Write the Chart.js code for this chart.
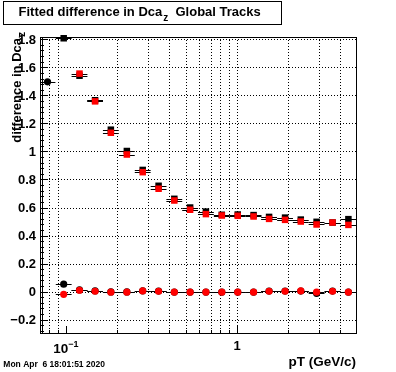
<!DOCTYPE html>
<html>
<head>
<meta charset="utf-8">
<script src="https://cdn.jsdelivr.net/npm/chart.js@4.4.0/dist/chart.umd.min.js"></script>
<style>
  body { margin: 0; background: #fff; }
  #wrap { position: relative; width: 396px; height: 372px; }
</style>
</head>
<body>
<div id="wrap"><canvas id="chart"></canvas></div>
<script>
// pT bin centres (GeV/c), log spaced bins
const ptBins = [0.078, 0.097, 0.12, 0.148, 0.183, 0.227, 0.281, 0.348, 0.43, 0.532,
                0.658, 0.815, 1.01, 1.25, 1.54, 1.91, 2.36, 2.92, 3.62, 4.48];

// upper branch (squares)
const blackSquares = [null, 1.807, 1.54, 1.365, 1.155, 1.003, 0.868, 0.755, 0.662, 0.600,
                      0.571, 0.548, 0.550, 0.546, 0.533, 0.528, 0.514, 0.498, 0.493, 0.517];
const redSquares   = [null, null, 1.555, 1.357, 1.133, 0.978, 0.852, 0.734, 0.650, 0.584,
                      0.553, 0.543, 0.541, 0.536, 0.519, 0.512, 0.500, 0.479, 0.493, 0.476];

// lower branch (circles)
const blackCircles = [1.496, 0.053, 0.012, 0.005, -0.002, -0.002, 0.006, 0.004, -0.003, -0.003,
                      -0.003, -0.003, -0.003, -0.003, 0.004, 0.004, 0.004, -0.012, 0.004, -0.003];
const redCircles   = [null, -0.019, 0.010, 0.003, -0.004, -0.004, 0.005, 0.003, -0.004, -0.004,
                      -0.004, -0.004, -0.004, -0.004, 0.003, 0.003, 0.005, -0.004, 0.003, -0.004];

// axis ticks
const yTickValues = [-0.2, 0, 0.2, 0.4, 0.6, 0.8, 1, 1.2, 1.4, 1.6, 1.8];
const yTickLabels = ['\u22120.2', '0', '0.2', '0.4', '0.6', '0.8', '1', '1.2', '1.4', '1.6', '1.8'];
const xGridValues = [0.08, 0.09, 0.2, 0.3, 0.4, 0.5, 0.6, 0.7, 0.8, 0.9, 1, 2, 3, 4];
const xMinorTicks = [0.08, 0.09, 0.2, 0.3, 0.4, 0.5, 0.6, 0.7, 0.8, 0.9, 2, 3, 4];
const xMajorTicks = [0.1, 1];

const FONT = '"Liberation Sans", Arial, Helvetica, sans-serif';
const binHalf = 1.1125;   // half bin width as a ratio (log bins)

function pairs(ys) {
    return ptBins.map((x, i) => ({ x: x, y: ys[i] })).filter(p => p.y !== null);
}

// ROOT-like frame, grid, ticks, labels
const rootStyle = {
    id: 'rootStyle',
    beforeDatasetsDraw(chart) {
        const ctx = chart.ctx;
        const xs = chart.scales.x, ys = chart.scales.y;
        const a = chart.chartArea;
        ctx.save();
        ctx.strokeStyle = '#000';
        ctx.lineWidth = 1;

        // dotted grid
        ctx.setLineDash([1, 2]);
        yTickValues.forEach(v => {
            const py = Math.round(ys.getPixelForValue(v)) + 0.5;
            ctx.beginPath(); ctx.moveTo(a.left, py); ctx.lineTo(a.right, py); ctx.stroke();
        });
        xGridValues.forEach(v => {
            const px = Math.round(xs.getPixelForValue(v)) + 0.5;
            ctx.beginPath(); ctx.moveTo(px, a.top); ctx.lineTo(px, a.bottom); ctx.stroke();
        });
        ctx.setLineDash([]);

        // frame
        ctx.strokeRect(a.left + 0.5, a.top + 0.5, a.right - a.left - 1, a.bottom - a.top - 1);
        ctx.beginPath(); ctx.moveTo(a.left + 2.5, a.top); ctx.lineTo(a.left + 2.5, a.bottom); ctx.stroke();

        // y ticks, major every 0.2 with 5 subdivisions
        for (let k = -15; k <= 95; k++) {
            const v = k * 0.02 * 2 / 2;
            const val = k * 0.04;
            if (val < ys.min || val > ys.max) continue;
            const py = Math.round(ys.getPixelForValue(val)) + 0.5;
            const len = (k % 5 === 0) ? 8 : 4;
            ctx.beginPath(); ctx.moveTo(a.left, py); ctx.lineTo(a.left + len, py); ctx.stroke();
        }
        // x ticks
        xMinorTicks.forEach(v => {
            const px = Math.round(xs.getPixelForValue(v)) + 0.5;
            ctx.beginPath(); ctx.moveTo(px, a.bottom); ctx.lineTo(px, a.bottom - 4); ctx.stroke();
        });
        xMajorTicks.forEach(v => {
            const px = Math.round(xs.getPixelForValue(v)) + 0.5;
            ctx.beginPath(); ctx.moveTo(px, a.bottom); ctx.lineTo(px, a.bottom - 8); ctx.stroke();
        });
        ctx.restore();
    },
    beforeDatasetDraw(chart, args) {
        // horizontal error bars (bin width), always black
        const ctx = chart.ctx;
        const xs = chart.scales.x, ys = chart.scales.y;
        const ds = chart.data.datasets[args.index];
        ctx.save();
        ctx.strokeStyle = '#000';
        ctx.lineWidth = 1;
        ds.data.forEach(p => {
            const py = Math.round(ys.getPixelForValue(p.y)) + 0.5;
            const x0 = Math.max(xs.getPixelForValue(p.x / binHalf), chart.chartArea.left);
            const x1 = xs.getPixelForValue(p.x * binHalf);
            ctx.beginPath(); ctx.moveTo(x0, py); ctx.lineTo(x1, py); ctx.stroke();
        });
        ctx.restore();
    },
    afterDraw(chart) {
        const ctx = chart.ctx;
        const xs = chart.scales.x, ys = chart.scales.y;
        const a = chart.chartArea;
        ctx.save();
        ctx.fillStyle = '#000';

        // y tick labels
        ctx.font = 'bold 13px ' + FONT;
        ctx.textAlign = 'right';
        ctx.textBaseline = 'alphabetic';
        yTickValues.forEach((v, i) => {
            const py = ys.getPixelForValue(v);
            ctx.fillText(yTickLabels[i], 36, py + 4.7);
        });

        // x tick labels: 10^-1 and 1
        const p01 = xs.getPixelForValue(0.1);
        ctx.font = 'bold 13.5px ' + FONT;
        ctx.textAlign = 'left';
        const w10 = ctx.measureText('10').width;
        ctx.font = 'bold 9px ' + FONT;
        const wExp = ctx.measureText('\u22121').width;
        const startX = p01 - (w10 + wExp) / 2;
        ctx.font = 'bold 13.5px ' + FONT;
        ctx.fillText('10', startX, 353);
        ctx.font = 'bold 9px ' + FONT;
        ctx.fillText('\u22121', startX + w10, 347);
        ctx.font = 'bold 13px ' + FONT;
        ctx.textAlign = 'center';
        ctx.fillText('1', xs.getPixelForValue(1), 350);

        // x axis title
        ctx.font = 'bold 13.5px ' + FONT;
        ctx.textAlign = 'right';
        ctx.fillText('pT (GeV/c)', a.right - 1, 366);

        // y axis title, rotated
        ctx.font = 'bold 13px ' + FONT;
        const yMain = 'difference in Dca';
        const wMain = ctx.measureText(yMain).width;
        ctx.save();
        ctx.translate(20.5, 38 + wMain);
        ctx.rotate(-Math.PI / 2);
        ctx.textAlign = 'left';
        ctx.fillText(yMain, 0, 0);
        ctx.font = 'bold 10px ' + FONT;
        ctx.fillText('z', wMain + 1, 4);
        ctx.restore();

        // title box
        ctx.fillStyle = '#fff';
        ctx.fillRect(3.5, 1.5, 278, 23);
        ctx.strokeStyle = '#000';
        ctx.lineWidth = 1;
        ctx.strokeRect(3.5, 1.5, 278, 23);
        ctx.fillStyle = '#000';
        ctx.textAlign = 'left';
        ctx.font = 'bold 13px ' + FONT;
        const t1 = 'Fitted difference in Dca';
        ctx.fillText(t1, 18.5, 16);
        let tx = 18.5 + ctx.measureText(t1).width;
        ctx.font = 'bold 10px ' + FONT;
        ctx.fillText('z', tx + 1, 21);
        tx += 1 + ctx.measureText('z').width;
        ctx.font = 'bold 13px ' + FONT;
        ctx.fillText('  Global Tracks', tx, 16);

        // date stamp
        ctx.font = 'bold 8.5px ' + FONT;
        ctx.fillText('Mon Apr  6 18:01:51 2020', 3.3, 367);
        ctx.restore();
    }
};

new Chart(document.getElementById('chart'), {
    type: 'scatter',
    data: {
        datasets: [
            { label: 'black squares', data: pairs(blackSquares), pointStyle: 'rect', pointRadius: 4.6,
              backgroundColor: '#000', pointBorderWidth: 0, order: 2, clip: false },
            { label: 'black circles', data: pairs(blackCircles), pointStyle: 'circle', pointRadius: 3.6,
              backgroundColor: '#000', pointBorderWidth: 0, order: 2, clip: false },
            { label: 'red squares', data: pairs(redSquares), pointStyle: 'rect', pointRadius: 4.6,
              backgroundColor: '#ff0000', pointBorderWidth: 0, order: 1, clip: false },
            { label: 'red circles', data: pairs(redCircles), pointStyle: 'circle', pointRadius: 3.6,
              backgroundColor: '#ff0000', pointBorderWidth: 0, order: 1, clip: false }
        ]
    },
    options: {
        responsive: true,
        maintainAspectRatio: false,
        animation: false,
        events: [],
        layout: { padding: { left: 40, top: 37, right: 39, bottom: 38 } },
        plugins: { legend: { display: false }, tooltip: { enabled: false } },
        scales: {
            x: { type: 'logarithmic', min: 0.0705, max: 5.03, display: false },
            y: { type: 'linear', min: -0.302, max: 1.816, display: false }
        }
    },
    plugins: [rootStyle]
});
</script>
</body>
</html>
